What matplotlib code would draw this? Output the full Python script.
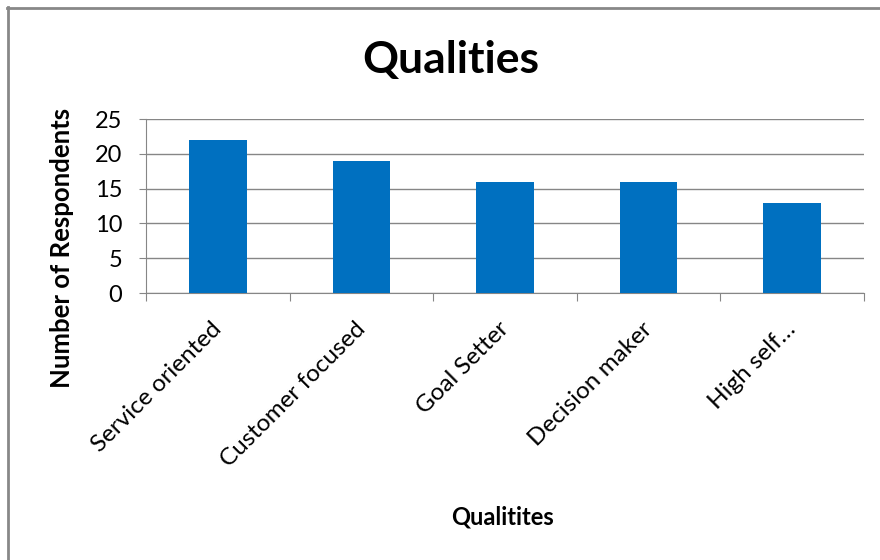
import numpy as np
import matplotlib.pyplot as plt
from matplotlib.lines import Line2D

plt.rcParams['font.family'] = ['Lato', 'DejaVu Sans']

categories = ['Service oriented', 'Customer focused', 'Goal Setter', 'Decision maker', 'High self…']
respondents = [22, 19, 16, 16, 13]
yticks = [0, 5, 10, 15, 20, 25]

fig = plt.figure(figsize=(8.8, 5.6), dpi=100)
ax = fig.add_axes([146/880, 1-293/560, (864-146)/880, (293-119)/560])

x = np.arange(len(categories))
ax.bar(x, respondents, width=0.4, color='#0070C0', zorder=3)

ax.set_xlim(-0.5, len(categories) - 0.5)
ax.set_ylim(0, 25)
ax.set_yticks(yticks)
ax.set_yticklabels([str(t) for t in yticks], fontsize=17)
ax.yaxis.grid(True, color='#868686', linewidth=1)
ax.set_axisbelow(True)

# category boundaries carry the tick marks
ax.set_xticks(np.arange(len(categories) + 1) - 0.5)
ax.set_xticklabels([])
ax.tick_params(axis='x', length=6, color='#868686', direction='out')
ax.tick_params(axis='y', length=5, color='#868686', direction='out', pad=12)
for i, name in enumerate(categories):
    ax.annotate(name, xy=(i, 0), xycoords=('data', 'axes fraction'),
                xytext=(-5, -18), textcoords='offset points',
                rotation=45, rotation_mode='anchor', ha='right', va='top',
                fontsize=17.5)

for s in ['top', 'right']:
    ax.spines[s].set_visible(False)
for s in ['left', 'bottom']:
    ax.spines[s].set_color('#868686')

fig.text(451/880, 1-60/560, 'Qualities', fontsize=32, fontweight='bold', ha='center', va='center')
fig.text(62/880, 1-248/560, 'Number of Respondents', fontsize=18.5, fontweight='bold',
         rotation=90, ha='center', va='center')
fig.text(502/880, 1-517/560, 'Qualitites', fontsize=17, fontweight='bold', ha='center', va='center')

# outer chart frame
fig.add_artist(Line2D([7/880, 1], [1-7.5/560, 1-7.5/560], transform=fig.transFigure, color='#888888', linewidth=2))
fig.add_artist(Line2D([7.5/880, 7.5/880], [0, 1-7/560], transform=fig.transFigure, color='#888888', linewidth=2))

fig.savefig('out.png', dpi=100)
